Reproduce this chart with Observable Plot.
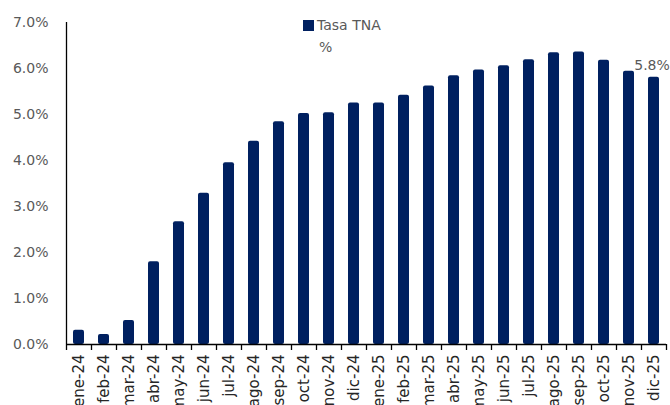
<!DOCTYPE html>
<html>
<head>
<meta charset="utf-8">
<script src="https://cdn.jsdelivr.net/npm/d3@7"></script>
<script src="https://cdn.jsdelivr.net/npm/@observablehq/plot@0.6"></script>
<style>
  html, body { margin: 0; padding: 0; background: #fff; }
  #wrap { position: relative; width: 670px; height: 405px; overflow: hidden; font-family: "DejaVu Sans", sans-serif; }
  #legend { position: absolute; left: 303px; top: 14px; font-size: 14px; color: #595959; line-height: 22px; }
  #legend .sw { display: inline-block; width: 11px; height: 11px; background: #002060; margin-right: 3px; vertical-align: -1px; }
  #legend .l2 { padding-left: 16px; }
</style>
</head>
<body>
<div id="wrap">
  <div id="chart"></div>
  <div id="legend"><div><span class="sw"></span>Tasa TNA</div><div class="l2">%</div></div>
</div>
<script>
const months = ["ene-24","feb-24","mar-24","abr-24","may-24","jun-24","jul-24","ago-24","sep-24","oct-24","nov-24","dic-24",
                "ene-25","feb-25","mar-25","abr-25","may-25","jun-25","jul-25","ago-25","sep-25","oct-25","nov-25","dic-25"];
const tasaTNA = [0.31, 0.22, 0.52, 1.80, 2.67, 3.29, 3.95, 4.42, 4.84, 5.02, 5.04, 5.25,
                 5.25, 5.42, 5.62, 5.84, 5.97, 6.06, 6.19, 6.34, 6.36, 6.18, 5.94, 5.81];
const yTicks = [0, 1, 2, 3, 4, 5, 6, 7];
const lastLabel = "5.8%";

const data = months.map((m, i) => ({month: m, value: tasaTNA[i] / 100}));
const last = data[data.length - 1];
const navy = "#002060";

const chart = Plot.plot({
  width: 670,
  height: 405,
  marginLeft: 66,
  marginRight: 4,
  marginTop: 22,
  marginBottom: 61,
  style: {fontFamily: "DejaVu Sans, sans-serif", fontSize: "14px", color: "#595959", background: "#fff"},
  x: {domain: months, paddingInner: 0.56, paddingOuter: 0.28, label: null},
  y: {domain: [0, 0.07], label: null},
  marks: [
    Plot.barY(data, {x: "month", y: "value", fill: navy, rx: 2}),
    Plot.ruleY([0], {stroke: "#000", strokeWidth: 1.3}),
    Plot.ruleX([months[0]], {dx: -12.5, y1: 0, y2: 0.07, stroke: "#000", strokeWidth: 1.3}),
    Plot.ruleX(months, {x: d => d, dx: -12.5, y1: 0, y2: 0, insetBottom: -6, stroke: "#000", strokeWidth: 1.3}),
    Plot.ruleX([months[months.length - 1]], {dx: 12.5, y1: 0, y2: 0, insetBottom: -6, stroke: "#000", strokeWidth: 1.3}),
    Plot.axisY(yTicks.map(d => d / 100), {tickSize: 0, tickPadding: 18, tickFormat: d3.format(".1%"), fill: "#595959", fontSize: 14}),
    Plot.axisX({tickSize: 0, tickPadding: 10, tickRotate: -90, fill: "#262626", fontSize: 15}),
    Plot.text([last], {x: "month", y: "value", text: () => lastLabel, lineAnchor: "bottom", dy: -7, dx: -2, fill: "#595959", fontSize: 14})
  ]
});
document.getElementById("chart").appendChild(chart);
</script>
</body>
</html>
